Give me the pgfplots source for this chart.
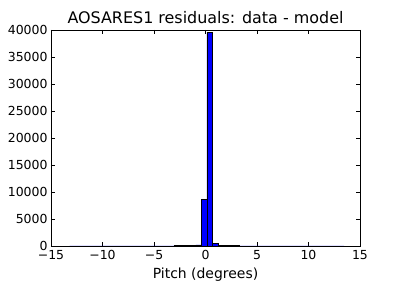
\documentclass[border=0pt]{standalone}
\usepackage{pgfplots}
\pgfplotsset{compat=1.18}
\usepackage{fontspec}
\setmainfont{DejaVu Sans}
\begin{document}
\begin{tikzpicture}
\path[use as bounding box] (-51bp,-54bp) rectangle (349bp,246bp);
\begin{axis}[
  at={(0,0)}, anchor=south west,
  scale only axis, width=309bp, height=216bp,
  xmin=-15, xmax=15, ymin=0, ymax=40000,
  xtick={-15,-10,-5,0,5,10,15},
  xticklabels={−15,−10,−5,0,5,10,15},
  ytick={0,5000,10000,15000,20000,25000,30000,35000,40000},
  yticklabels={0,5000,10000,15000,20000,25000,30000,35000,40000},
  tick align=inside, tick pos=both,
  major tick length=4bp,
  axis line style={line width=0.9pt},
  every tick/.style={black, line width=0.6pt},
  tick label style={font=\fontsize{12.5}{14}\selectfont},
  xticklabel style={yshift=-1bp},
  scaled y ticks=false,
  title={AOSARES1 residuals: data - model},
  title style={font=\fontsize{16}{19}\selectfont, yshift=-3bp},
  xlabel={Pitch (degrees)},
  xlabel style={font=\fontsize{14}{16}\selectfont, yshift=-1bp},
  clip=false,
]
\addplot[ybar interval, fill={rgb,255:red,0;green,0;blue,255}, draw=black, line width=0.5pt] coordinates {
(-13.2,20) (-12.667,15) (-12.134,15) (-11.601,15) (-11.068,15) (-10.535,15)
(-10.002,20) (-9.469,20) (-8.936,20) (-8.403,20) (-7.87,20) (-7.337,25)
(-6.804,25) (-6.271,25) (-5.738,30) (-5.205,30) (-4.672,35) (-4.139,40)
(-3.606,45) (-3.073,50) (-2.54,130) (-2.007,140) (-1.474,160) (-0.941,220)
(-0.408,8700) (0.125,39500) (0.658,420) (1.191,160) (1.724,140) (2.257,130)
(2.79,120) (3.323,45) (3.856,40) (4.389,35) (4.922,30) (5.455,30)
(5.988,25) (6.521,25) (7.054,25) (7.587,20) (8.12,20) (8.653,20)
(9.186,20) (9.719,20) (10.252,15) (10.785,15) (11.318,15) (11.851,15)
(12.384,15) (12.917,15) (13.45,0)
};
\end{axis}
\end{tikzpicture}
\end{document}
